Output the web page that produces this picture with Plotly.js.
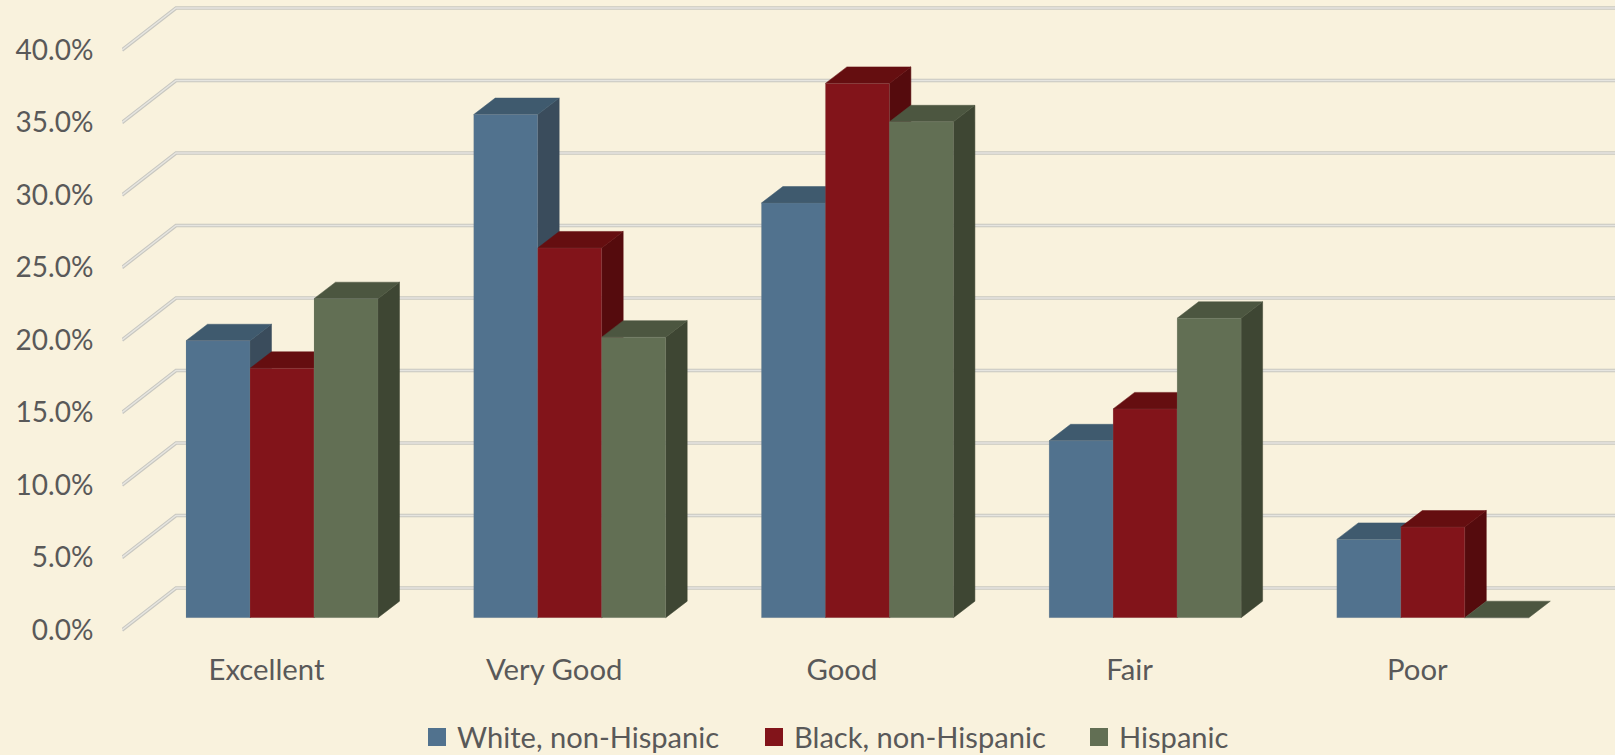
<!DOCTYPE html>
<html>
<head>
<meta charset="utf-8">
<script src="https://cdn.plot.ly/plotly-3.0.1.min.js"></script>
<style>html,body{margin:0;padding:0;background:#F9F2DD}#chart{width:1615px;height:755px}</style>
</head>
<body>
<div id="chart"></div>
<script>
// Self-reported health status by race and ethnicity, drawn as pseudo-3D clustered columns.
const categories = ['Excellent', 'Very Good', 'Good', 'Fair', 'Poor'];
const seriesNames = ['White, non-Hispanic', 'Black, non-Hispanic', 'Hispanic'];
const white = [19.1, 34.7, 28.6, 12.2, 5.4];
const black = [17.2, 25.5, 36.85, 14.4, 6.25];
const hispanic = [22.0, 19.35, 34.2, 20.65, 0];
const tickValues = [0, 5, 10, 15, 20, 25, 30, 35, 40];

const frontColors = ['#51728E', '#82141A', '#626F54'];
const topColors = ['#3F5A6E', '#650E10', '#4C5640'];
const sideColors = ['#3A4C5C', '#550B0D', '#3E4633'];
const inkColor = '#595959';

// Plot area in page pixels, and the scale of the value and category axes.
const plot = {left: 122, right: 1615, top: 0, bottom: 642};
const pxPerPct = 14.5, pxPerCat = 287.7;
const wallZero = 630, wallFirstCat = 266.5;   // front edge of the floor
const barZero = 617.7, barFirstCat = 282;     // front plane of the columns

// Depth of the box and of the columns, expressed in axis units.
const wallDepthX = 54 / pxPerCat, wallDepthY = 42 / pxPerPct;
const barDepthX = 21.5 / pxPerCat, barDepthY = 16.5 / pxPerPct;
const planeShiftX = (barFirstCat - wallFirstCat) / pxPerCat;
const planeShiftY = (wallZero - barZero) / pxPerPct;
const barWidth = 64 / pxPerCat;

const W = 1615, H = 755;
const rangeFor = (first, zero) => ({
  x: [(plot.left - first) / pxPerCat, (plot.right - first) / pxPerCat],
  y: [(zero - plot.bottom) / pxPerPct, (zero - plot.top) / pxPerPct]
});
const wallRange = rangeFor(wallFirstCat, wallZero);
const barRange = rangeFor(barFirstCat, barZero);
const catIndex = categories.map((_, i) => i);
const traces = [];

// Floor and back-wall gridlines: a grey stroke with a pale core.
function addGrid(color, width) {
  tickValues.forEach(v => {
    const xf = wallRange.x[0];
    traces.push({
      type: 'scatter', mode: 'lines', xaxis: 'x', yaxis: 'y', showlegend: false, hoverinfo: 'skip',
      x: [xf, xf + wallDepthX, wallRange.x[1] + 0.1],
      y: [v, v + wallDepthY, v + wallDepthY],
      line: {color: color, width: width}
    });
  });
}
addGrid('#C8C7C0', 3.6);
addGrid('#E6E5E0', 1.4);

// Side and top faces, painted series by series so later columns cover earlier ones.
function addFace(xs, ys, color) {
  traces.push({
    type: 'scatter', mode: 'lines', fill: 'toself', fillcolor: color, xaxis: 'x', yaxis: 'y',
    showlegend: false, hoverinfo: 'skip', x: xs, y: ys,
    line: {color: color, width: 0.5}
  });
}
[white, black, hispanic].forEach((values, s) => {
  values.forEach((v, c) => {
    const x0 = c + planeShiftX + (s - 1.5) * barWidth;
    const x1 = x0 + barWidth;
    const y = v + planeShiftY;
    if (v > 0) {
      addFace([x1, x1 + barDepthX, x1 + barDepthX, x1, x1],
              [planeShiftY, planeShiftY + barDepthY, y + barDepthY, y, planeShiftY], sideColors[s]);
    }
    addFace([x0, x1, x1 + barDepthX, x0 + barDepthX, x0],
            [y, y, y + barDepthY, y + barDepthY, y], topColors[s]);
  });
});

// Front faces live on an overlaid pair of axes aligned with the column plane.
[white, black, hispanic].forEach((values, s) => {
  traces.push({
    type: 'bar', name: seriesNames[s], xaxis: 'x2', yaxis: 'y2', showlegend: false,
    x: catIndex, y: values, width: barWidth, offset: (s - 1.5) * barWidth,
    marker: {color: frontColors[s], line: {color: 'rgba(150,150,140,0.15)', width: 1}},
    hovertemplate: '%{y:.1f}%<extra>' + seriesNames[s] + '</extra>'
  });
});

// One legend per entry keeps each swatch at its own spot along the bottom row.
const legendSlots = [417, 754, 1079];
const legendRowY = 737;
const legends = {};
seriesNames.forEach((name, s) => {
  const key = s === 0 ? 'legend' : 'legend' + (s + 1);
  traces.push({
    type: 'scatter', mode: 'markers', name: name, xaxis: 'x', yaxis: 'y', legend: key, hoverinfo: 'skip',
    x: [null], y: [null],
    marker: {symbol: 'square', size: 16, color: frontColors[s], line: {width: 2, color: frontColors[s]}}
  });
  legends[key] = {
    xref: 'container', yref: 'container',
    x: legendSlots[s] / W, xanchor: 'left',
    y: 1 - legendRowY / H, yanchor: 'middle',
    bgcolor: 'rgba(0,0,0,0)', borderwidth: 0, itemwidth: 30,
    font: {family: 'Lato', size: 29.1, color: inkColor}, itemclick: false, itemdoubleclick: false
  };
});

const layout = Object.assign({
  width: W, height: H,
  paper_bgcolor: '#F9F2DD', plot_bgcolor: 'rgba(0,0,0,0)',
  margin: {l: plot.left, r: W - plot.right, t: plot.top, b: H - plot.bottom, pad: 0, autoexpand: false},
  showlegend: true,
  barmode: 'overlay',
  font: {family: 'Lato', color: inkColor},
  xaxis: {
    type: 'linear', range: wallRange.x, tickmode: 'array', tickvals: catIndex, ticktext: categories,
    showgrid: false, zeroline: false, showline: false, tickangle: 0,
    ticks: 'outside', ticklen: 2, tickcolor: 'rgba(0,0,0,0)', tickfont: {family: 'Lato', size: 29.3, color: inkColor}
  },
  yaxis: {
    type: 'linear', range: wallRange.y, tickmode: 'array', tickvals: tickValues,
    ticktext: tickValues.map(v => v.toFixed(1) + '%'),
    showgrid: false, zeroline: false, showline: false,
    ticks: 'outside', ticklen: 22, tickcolor: 'rgba(0,0,0,0)', tickfont: {family: 'Lato', size: 28, color: inkColor},
    ticklabelshift: -1.5
  },
  xaxis2: {type: 'linear', overlaying: 'x', range: barRange.x, visible: false, fixedrange: true},
  yaxis2: {type: 'linear', overlaying: 'y', range: barRange.y, visible: false, fixedrange: true}
}, legends);

Plotly.newPlot('chart', traces, layout, {displayModeBar: false, responsive: false});
</script>
</body>
</html>
